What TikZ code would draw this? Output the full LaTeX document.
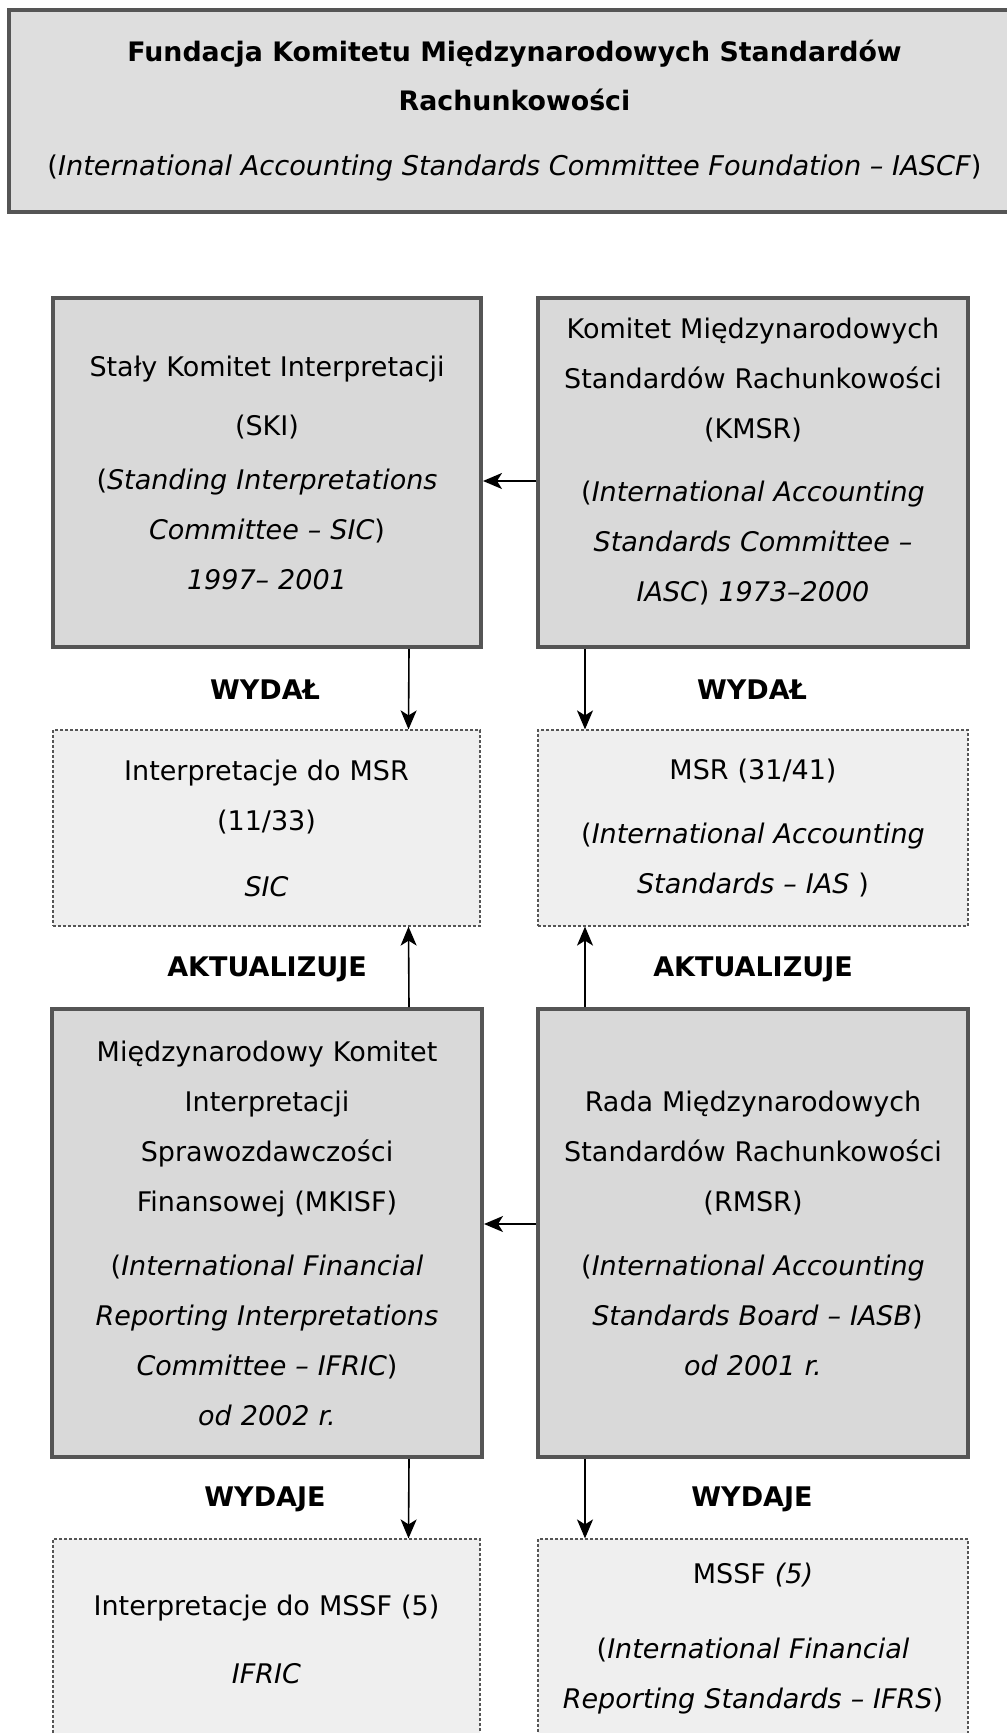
\documentclass[tikz,border=0pt]{standalone}
\usepackage{fontspec}
\setmainfont{DejaVu Sans}
\usetikzlibrary{arrows.meta}
\definecolor{boxfill}{HTML}{D9D9D9}
\definecolor{topfill}{HTML}{DEDEDE}
\definecolor{dashfill}{HTML}{EFEFEF}
\definecolor{boxline}{HTML}{555555}
\tikzset{
  solidbox/.style={draw=boxline, line width=2pt, fill=boxfill, inner sep=0pt, align=center,
    font=\fontsize{13.5}{25}\selectfont, text width=200pt},
  dashbox/.style={draw=boxline, line width=0.6pt, dash pattern=on 1.5pt off 1pt, fill=dashfill, inner sep=0pt, align=center,
    font=\fontsize{13.5}{25}\selectfont, text width=200pt},
  lbl/.style={font=\fontsize{13.5}{16}\selectfont\bfseries, inner sep=0pt},
  arr/.style={line width=0.8pt, -{Stealth[length=9.5pt,width=8pt,inset=2.5pt]}}
}
\begin{document}
\begin{tikzpicture}[x=0.5pt,y=-0.5pt]
\useasboundingbox (0,0) rectangle (1006,1733);
\fill[white] (0,0) rectangle (1006,1733);
% top
\node[draw=boxline, line width=2pt, fill=topfill, inner sep=0pt, align=center,
  minimum width=505.5pt, minimum height=101pt, font=\fontsize{13.6}{24.5}\selectfont] (top) at (514.5,111)
  {{\fontsize{13.4}{24.5}\selectfont\bfseries Fundacja Komitetu Międzynarodowych Standardów}\\{\fontsize{13.4}{24.5}\selectfont\bfseries Rachunkowości}\\[8pt]
   (\textit{International Accounting Standards Committee Foundation – IASCF})};
% row 1
\node[solidbox, minimum width=214pt, minimum height=174.5pt] (ski) at (267,472.5)
  {Stały Komitet Interpretacji\\[4.5pt](SKI)\\[2pt](\textit{Standing Interpretations}\\\textit{Committee – SIC})\\\textit{1997– 2001}};
\node[solidbox, minimum width=215pt, minimum height=174.5pt] (kmsr) at (753,472.5)
  {Komitet Międzynarodowych\\Standardów Rachunkowości\\(KMSR)\\[6.5pt](\textit{International Accounting}\\\textit{Standards Committee –}\\\textit{IASC}) \textit{1973–2000}\\[-20pt]\strut};
% row 2
\node[dashbox, minimum width=213.5pt, minimum height=98pt] (sic) at (266.5,828)
  {Interpretacje do MSR\\(11/33)\\[8pt]\textit{SIC}};
\node[dashbox, minimum width=215pt, minimum height=98pt] (ias) at (753,828)
  {MSR (31/41)\\[7pt](\textit{International Accounting}\\\textit{Standards – IAS} )};
% row 3
\node[solidbox, minimum width=215pt, minimum height=224pt] (mkisf) at (267,1233)
  {Międzynarodowy Komitet\\Interpretacji\\Sprawozdawczości\\Finansowej (MKISF)\\[7pt](\textit{International Financial}\\\textit{Reporting Interpretations}\\\textit{Committee – IFRIC})\\\textit{od 2002 r.}};
\node[solidbox, minimum width=215pt, minimum height=224pt] (rmsr) at (753,1233)
  {Rada Międzynarodowych\\Standardów Rachunkowości\\(RMSR)\\[7pt](\textit{International Accounting}\\\textit{~Standards Board – IASB})\\\textit{od 2001 r.}};
% row 4
\node[dashbox, minimum width=213.5pt, minimum height=100pt] (ifric) at (266.5,1639)
  {Interpretacje do MSSF (5)\\[9pt]\textit{IFRIC}};
\node[dashbox, minimum width=215pt, minimum height=100pt] (ifrs) at (753,1639)
  {MSSF \textit{(5)}\\[12.5pt](\textit{International Financial}\\\textit{Reporting Standards – IFRS})};
% labels
\node[lbl] (w1) at (265,690) {WYDAŁ};
\node[lbl] (w2) at (752,690) {WYDAŁ};
\node[lbl] (a1) at (267,969) {AKTUALIZUJE};
\node[lbl] (a2) at (753,969) {AKTUALIZUJE};
\node[lbl] (w3) at (265,1499) {WYDAJE};
\node[lbl] (w4) at (752,1499) {WYDAJE};
% arrows
\draw[arr] ([yshift=-4.25pt]kmsr.west) -- ([yshift=-4.25pt]ski.east);
\draw[arr] ([yshift=4.5pt]rmsr.west) -- ([yshift=4.5pt]mkisf.east);
\draw[arr] ([xshift=71pt]ski.south) -- ([xshift=71pt]sic.north);
\draw[arr] ([xshift=-84pt]kmsr.south) -- ([xshift=-84pt]ias.north);
\draw[arr] ([xshift=71pt]mkisf.north) -- ([xshift=71pt]sic.south);
\draw[arr] ([xshift=-84pt]rmsr.north) -- ([xshift=-84pt]ias.south);
\draw[arr] ([xshift=71pt]mkisf.south) -- ([xshift=71pt]ifric.north);
\draw[arr] ([xshift=-84pt]rmsr.south) -- ([xshift=-84pt]ifrs.north);
\end{tikzpicture}
\end{document}
